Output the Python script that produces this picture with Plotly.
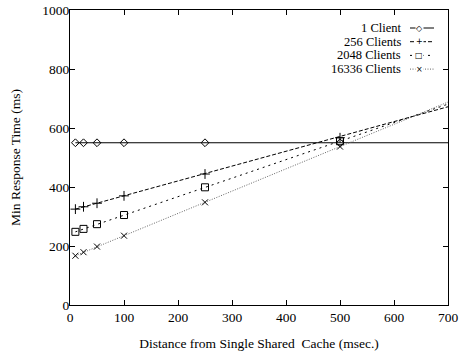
import plotly.graph_objects as go

# ---- data ----
distance = [10, 25, 50, 100, 250, 500]
series_names = ["1 Client", "256 Clients", "2048 Clients", "16336 Clients"]
client1 = [550, 550, 550, 550, 550, 550]
client256 = [325, 333, 345, 370, 444, 567]
client2048 = [248, 258, 274, 305, 399, 555]
client16336 = [167, 179, 198, 235, 348, 537]
# linear trend lines drawn from the first sample out to the axis end
fit_x = [10, 700]
fit1 = [550, 550]
fit256 = [325, 672]
fit2048 = [248, 681]
fit16336 = [167, 688]

x_ticks = [0, 100, 200, 300, 400, 500, 600, 700]
y_ticks = [0, 200, 400, 600, 800, 1000]

FONT = "Liberation Serif"
FS = 13.5

styles = [
    dict(dash="solid", symbol="diamond-open", size=6, color="black", lw=1.0, glyph="◇"),
    dict(dash="4px,2px", symbol="cross-thin-open", size=7, color="black", lw=1.0, glyph="+"),
    dict(dash="2px,4px", symbol="square-open", size=7, color="black", lw=1.0, glyph="□"),
    dict(dash="1px,1.5px", symbol="x-thin-open", size=6, color="#666666", lw=1.0, glyph="×"),
]
values = [client1, client256, client2048, client16336]
fits = [fit1, fit256, fit2048, fit16336]

fig = go.Figure()
for name, vals, fit, st in zip(series_names, values, fits, styles):
    fig.add_trace(go.Scatter(
        x=fit_x, y=fit, mode="lines", showlegend=False, hoverinfo="skip",
        line=dict(color=st["color"], width=st["lw"], dash=st["dash"]),
    ))
    fig.add_trace(go.Scatter(
        x=distance, y=vals, mode="markers", name=name, showlegend=False,
        marker=dict(symbol=st["symbol"], size=st["size"], color="black",
                    line=dict(color="black", width=1.0)),
    ))

# ---- gnuplot-style key (text right-justified, sample on the right) ----
W, H = 461, 354
ml, mr, mt, mb = 70, 13, 10, 49
pw, ph = W - ml - mr, H - mt - mb
shapes = []
annotations = []
key_text_right = 402   # px
samp_x0, samp_x1, samp_mark = 410, 434, 419
row0, row_gap = 28, 13.7
for i, (name, st) in enumerate(zip(series_names, styles)):
    ypx = row0 + i * row_gap
    yp = 1 - (ypx - mt) / ph
    annotations.append(dict(
        x=(key_text_right - ml) / pw, y=yp, xref="paper", yref="paper",
        text=name, showarrow=False, xanchor="right", yanchor="middle",
        font=dict(family=FONT, size=12.5, color="black"), borderpad=0,
    ))
    shapes.append(dict(
        type="line", xref="paper", yref="paper",
        x0=(samp_x0 - ml) / pw, x1=(samp_x1 - ml) / pw, y0=yp, y1=yp,
        line=dict(color=st["color"], width=st["lw"], dash=st["dash"]),
    ))
    annotations.append(dict(
        x=(samp_mark - ml) / pw, y=yp, xref="paper", yref="paper",
        text=st["glyph"], showarrow=False, xanchor="center", yanchor="middle",
        font=dict(family="DejaVu Sans", size=8, color="black"),
        bgcolor="white", borderpad=0,
    ))

axis_common = dict(
    showgrid=False, zeroline=False, showline=True, linecolor="black", linewidth=1,
    mirror="ticks", ticks="inside", ticklen=5, tickcolor="black", tickwidth=1,
    tickfont=dict(family=FONT, size=FS, color="black"), automargin=False,
)

fig.update_layout(
    width=W, height=H,
    margin=dict(l=ml, r=mr, t=mt, b=mb, autoexpand=False),
    paper_bgcolor="white", plot_bgcolor="white",
    showlegend=False,
    font=dict(family=FONT),
    xaxis=dict(range=[0, 700], tickvals=x_ticks, **axis_common,
               title=dict(text="Distance from Single Shared\u00a0 Cache (msec.)",
                          font=dict(family=FONT, size=FS, color="black"), standoff=14)),
    yaxis=dict(range=[0, 1000], tickvals=y_ticks, **axis_common, ticklabelstandoff=-3,
               title=dict(text="Min Response Time (ms)",
                          font=dict(family=FONT, size=FS, color="black"), standoff=18)),
    shapes=shapes, annotations=annotations,
)

fig.write_html("out.html", config={"displayModeBar": False},
               post_script="document.body.style.margin='0';document.body.style.padding='0';")
